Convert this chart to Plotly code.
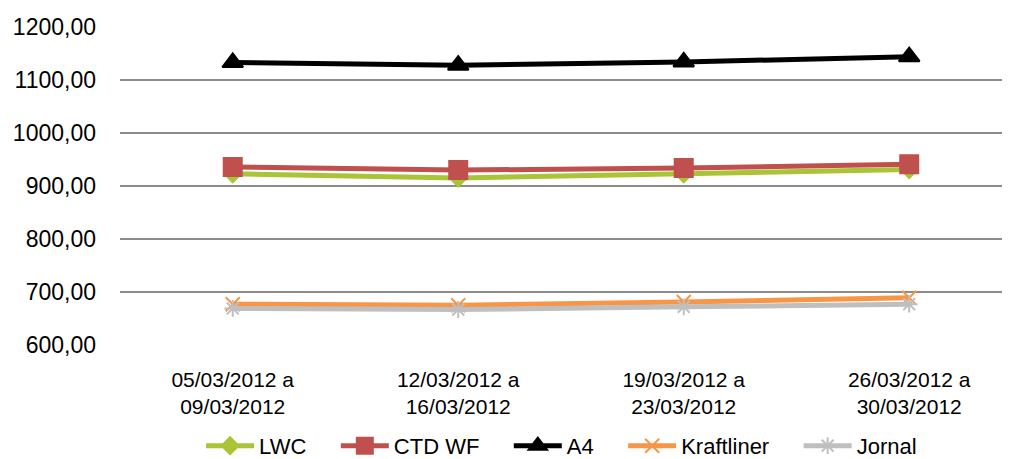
import plotly.graph_objects as go

categories = ["05/03/2012 a<br>09/03/2012", "12/03/2012 a<br>16/03/2012",
              "19/03/2012 a<br>23/03/2012", "26/03/2012 a<br>30/03/2012"]
lwc = [923, 915, 923, 931]
ctd_wf = [936, 930, 934, 941]
a4 = [1133, 1128, 1134, 1144]
kraftliner = [677, 675, 681, 689]
jornal = [669, 667, 672, 677]

x = list(range(len(categories)))
pad = "\u00a0\u00a0\u00a0\u00a0"

series = [
    ("LWC", lwc, "#A9C436", "diamond", 13),
    ("CTD WF", ctd_wf, "#C0504D", "square", 18),
    ("A4", a4, "#000000", "triangle-up", 18),
    ("Kraftliner", kraftliner, "#F79646", "x-thin-open", 14),
    ("Jornal", jornal, "#BFBFBF", "asterisk-open", 14),
]

fig = go.Figure()
for name, vals, color, sym, msize in series:
    fig.add_trace(go.Scatter(
        x=x, y=vals, name=name + pad, mode="lines+markers",
        line=dict(color=color, width=5),
        marker=dict(symbol=sym, size=msize, color=color,
                    line=dict(color=color, width=2)),
    ))

fig.update_layout(
    width=1010, height=459,
    margin=dict(l=112, r=8, t=19, b=122, autoexpand=False),
    paper_bgcolor="white", plot_bgcolor="white",
    font=dict(family="Liberation Sans, Arial, sans-serif", size=21, color="#000000"),
    separators=",.",
    showlegend=True,
    legend=dict(orientation="h", x=0.56, xanchor="center", xref="container",
                y=0.046, yanchor="middle", yref="container",
                font=dict(size=22), itemwidth=48, tracegroupgap=0),
)
fig.update_xaxes(
    tickmode="array", tickvals=x, ticktext=categories,
    range=[-0.5, 3.447], showgrid=False, zeroline=False,
    showline=False, ticks="", automargin=False, ticklabelstandoff=20,
)
fig.update_yaxes(
    range=[600, 1200], dtick=100, tickformat=".2f",
    showgrid=True, gridcolor="#8C8C8C", gridwidth=1.5,
    zeroline=False, showline=False, ticks="", ticklabelstandoff=23,
    tickfont=dict(size=23), automargin=False,
)

fig.write_html("out.html")
